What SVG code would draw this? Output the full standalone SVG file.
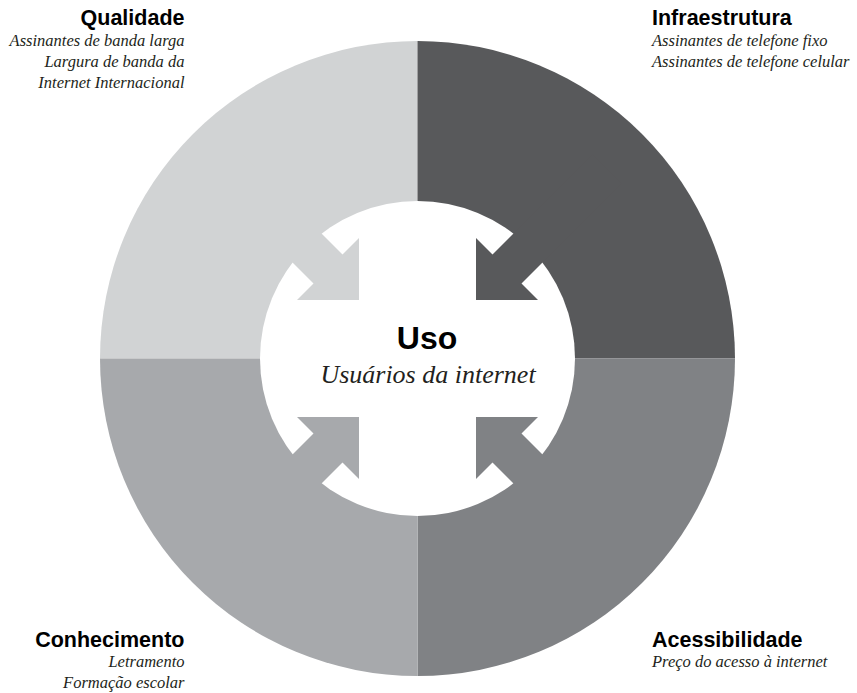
<svg xmlns="http://www.w3.org/2000/svg" xmlns:xlink="http://www.w3.org/1999/xlink" width="857" height="693" viewBox="0 0 857 693">
  <style>
    .title { font-family: "Liberation Sans", Arial, sans-serif; font-weight: bold; font-size: 21.5px; fill: #000; }
    .sub { font-family: "Liberation Serif", "Times New Roman", serif; font-style: italic; font-size: 16.5px; fill: #231f20; }
    .q1 { fill: #d1d3d4; }
    .q2 { fill: #58595b; }
    .q3 { fill: #808285; }
    .q4 { fill: #a7a9ac; }
  </style>
  <defs>
    <path id="arrow" d="M -58.5 -58.5 L -58.5 -120.5 L -75 -104 L -175 -204 L -204 -175 L -104 -75 L -120.5 -58.5 Z"/>
  </defs>
  <rect width="857" height="693" fill="#ffffff"/>
  <g transform="translate(417.5,358.5)">
    <g id="ring">
      <path class="q1" d="M 0 0 L -317.5 0 A 317.5 317.5 0 0 1 0 -317.5 Z"/>
      <path class="q2" d="M 0 0 L 0 -317.5 A 317.5 317.5 0 0 1 317.5 0 Z"/>
      <path class="q3" d="M 0 0 L 317.5 0 A 317.5 317.5 0 0 1 0 317.5 Z"/>
      <path class="q4" d="M 0 0 L 0 317.5 A 317.5 317.5 0 0 1 -317.5 0 Z"/>
    </g>
    <circle id="center-disc" cx="0" cy="0" r="157.5" fill="#ffffff"/>
    <g id="connectors">
      <use xlink:href="#arrow" href="#arrow" class="q1"/>
      <use xlink:href="#arrow" href="#arrow" class="q2" transform="rotate(90)"/>
      <use xlink:href="#arrow" href="#arrow" class="q3" transform="rotate(180)"/>
      <use xlink:href="#arrow" href="#arrow" class="q4" transform="rotate(270)"/>
    </g>
  </g>
  <g id="uso">
    <text x="427" y="348.5" text-anchor="middle" style="font-family: 'Liberation Sans', Arial, sans-serif; font-weight: bold; font-size: 32px; fill:#000;">Uso</text>
    <text x="428" y="383" text-anchor="middle" style="font-family: 'Liberation Serif', 'Times New Roman', serif; font-style: italic; font-size: 26px; fill:#231f20;">Usuários da internet</text>
  </g>
  <g id="qualidade">
    <text class="title" x="184.5" y="25" text-anchor="end">Qualidade</text>
    <text class="sub" x="184.5" y="45.5" text-anchor="end">Assinantes de banda larga</text>
    <text class="sub" x="184.5" y="66.5" text-anchor="end">Largura de banda da</text>
    <text class="sub" x="184.5" y="87.5" text-anchor="end">Internet Internacional</text>
  </g>
  <g id="infraestrutura">
    <text class="title" x="652" y="25">Infraestrutura</text>
    <text class="sub" x="652" y="45.5">Assinantes de telefone fixo</text>
    <text class="sub" x="652" y="66.5">Assinantes de telefone celular</text>
  </g>
  <g id="conhecimento">
    <text class="title" x="184.5" y="646.5" text-anchor="end">Conhecimento</text>
    <text class="sub" x="184.5" y="666.5" text-anchor="end">Letramento</text>
    <text class="sub" x="184.5" y="687.5" text-anchor="end">Formação escolar</text>
  </g>
  <g id="acessibilidade">
    <text class="title" x="652" y="646.5">Acessibilidade</text>
    <text class="sub" x="652" y="666.5">Preço do acesso à internet</text>
  </g>
</svg>
